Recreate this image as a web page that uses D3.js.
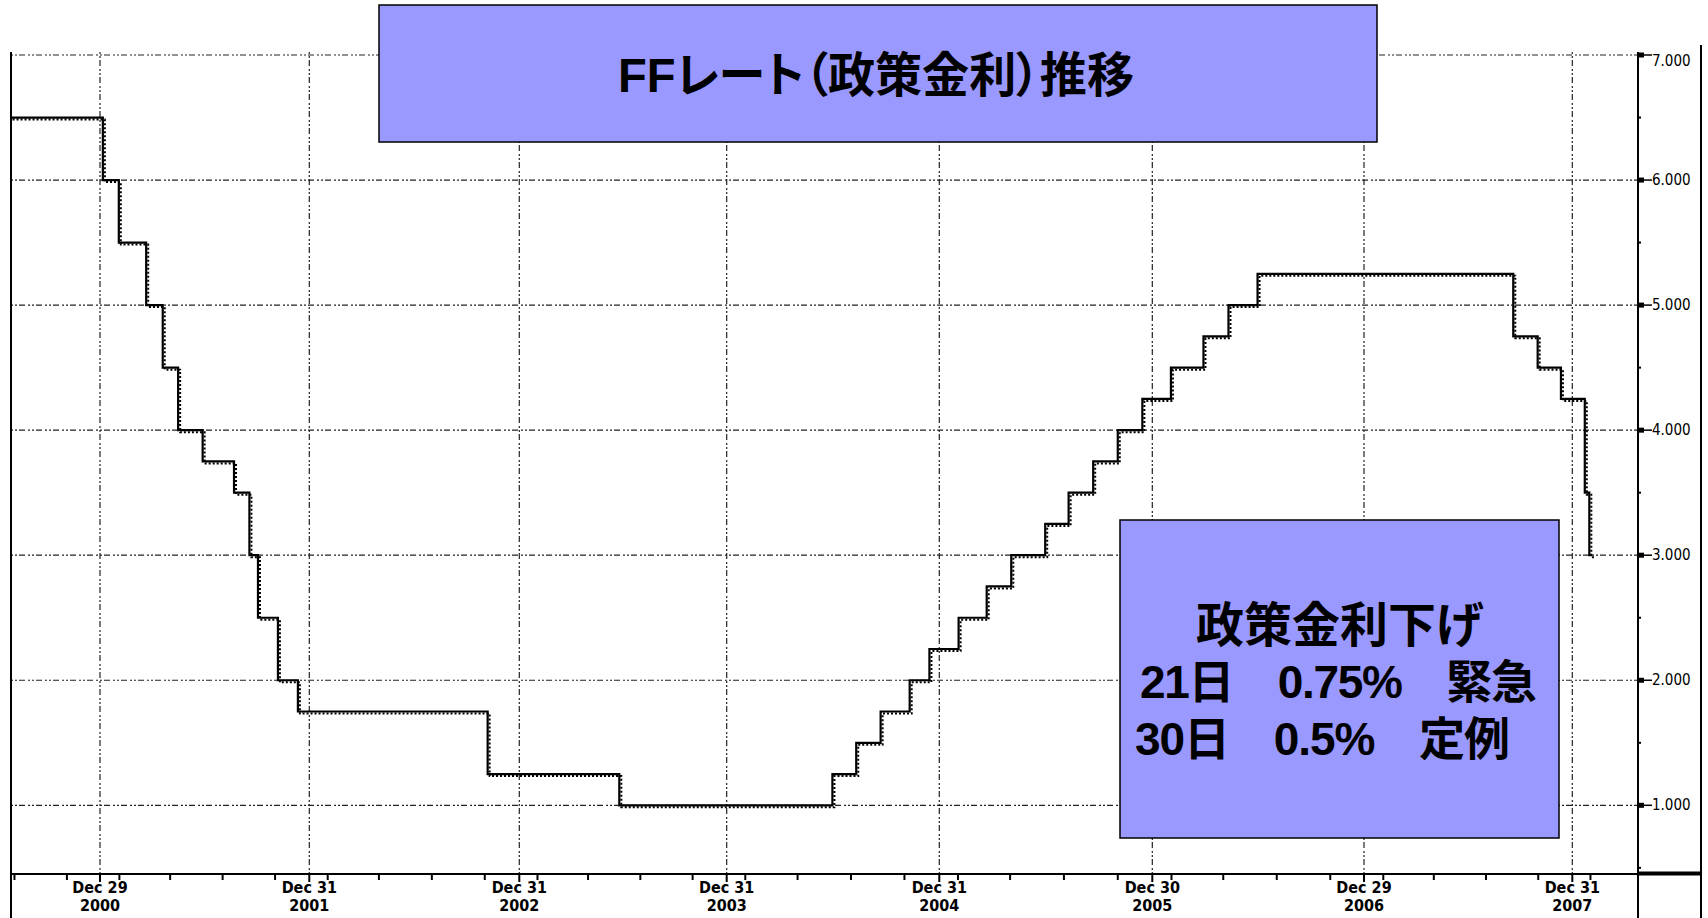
<!DOCTYPE html>
<html><head><meta charset="utf-8">
<script src="https://cdn.jsdelivr.net/npm/d3@7"></script>
<style>body{margin:0;background:#fff}svg{display:block}</style>
</head><body><svg id="c" width="1708" height="918"></svg>
<script>
// ---- data ----
const changeDates = ["2000-05-16","2001-01-03","2001-01-31","2001-03-20","2001-04-18","2001-05-15","2001-06-27","2001-08-21","2001-09-17","2001-10-02","2001-11-06","2001-12-11","2002-11-06","2003-06-25","2004-06-30","2004-08-10","2004-09-21","2004-11-10","2004-12-14","2005-02-02","2005-03-22","2005-05-03","2005-06-30","2005-08-09","2005-09-20","2005-11-01","2005-12-13","2006-01-31","2006-03-28","2006-05-10","2006-06-29","2007-09-18","2007-10-31","2007-12-11","2008-01-22","2008-01-30","2008-02-04"];
const rates = [6.5,6.0,5.5,5.0,4.5,4.0,3.75,3.5,3.0,2.5,2.0,1.75,1.25,1.0,1.25,1.5,1.75,2.0,2.25,2.5,2.75,3.0,3.25,3.5,3.75,4.0,4.25,4.5,4.75,5.0,5.25,4.75,4.5,4.25,3.5,3.0,3.0];
const yTicks = [1,2,3,4,5,6,7];
const xTickDates = ["2000-12-29","2001-12-31","2002-12-31","2003-12-31","2004-12-31","2005-12-30","2006-12-29","2007-12-31"];
const xTickDay = ["Dec 29","Dec 31","Dec 31","Dec 31","Dec 31","Dec 30","Dec 29","Dec 31"];
const xTickYear = ["2000","2001","2002","2003","2004","2005","2006","2007"];
const titleText = "FFレート（政策金利）推移";
const noteLines = ["政策金利下げ","21日　0.75%　緊急","30日　0.5%　定例"];

// ---- layout ----
const L = 11, R = 1638, T = 52, B = 874, RB = 1701;
// pixel positions of the year-end ticks (axis in the source is not calendar-linear)
const xTickPos = [100, 309.3, 519.3, 726.7, 939.3, 1152.3, 1364, 1572.3];
const svg = d3.select("#c");
const pd = d3.utcParse("%Y-%m-%d");
const x = d3.scaleUtc().domain(xTickDates.map(pd)).range(xTickPos);
const y = d3.scaleLinear().domain([1, 7]).range([805.3, 55]);
const xStart = x.invert(L), xEnd = x.invert(R);

svg.append("defs").append("clipPath").attr("id","plot")
  .append("rect").attr("x",L).attr("y",T).attr("width",R-L).attr("height",B-T);

// gridlines
const grid = svg.append("g").attr("stroke","#222").attr("stroke-width",1.2)
  .attr("stroke-dasharray","2,2,2,2,6,3");
grid.selectAll("line.h").data(yTicks).join("line").attr("class","h")
  .attr("x1",L).attr("x2",R).attr("y1",d=>y(d)).attr("y2",d=>y(d));
grid.selectAll("line.v").data(xTickDates).join("line").attr("class","v")
  .attr("x1",d=>x(pd(d))).attr("x2",d=>x(pd(d))).attr("y1",T).attr("y2",B);

// step line
const pts = changeDates.map((d,i)=>({date:pd(d), v:rates[i]}));
const line = d3.line().x(d=>x(d.date)).y(d=>y(d.v)).curve(d3.curveStepAfter);
const g = svg.append("g").attr("clip-path","url(#plot)");
g.append("path").datum(pts).attr("d",line).attr("fill","none")
  .attr("stroke","#000").attr("stroke-width",2).attr("stroke-dasharray","2,2")
  .attr("transform","translate(2,2)");
g.append("path").datum(pts).attr("d",line).attr("fill","none")
  .attr("stroke","#000").attr("stroke-width",2.2);

// frame lines
const frame = svg.append("g").attr("stroke","#000");
frame.append("line").attr("x1",L).attr("x2",L).attr("y1",T).attr("y2",918).attr("stroke-width",2);
frame.append("line").attr("x1",R).attr("x2",R).attr("y1",T).attr("y2",918).attr("stroke-width",2);
frame.append("line").attr("x1",RB).attr("x2",RB).attr("y1",45).attr("y2",918).attr("stroke-width",2);
frame.append("line").attr("x1",L).attr("x2",R).attr("y1",B).attr("y2",B).attr("stroke-width",2);
frame.append("line").attr("x1",R).attr("x2",RB).attr("y1",B-0.5).attr("y2",B-0.5).attr("stroke-width",4);

// right axis
const ra = svg.append("g");
const minorY = d3.range(0.5, 7, 1);
ra.selectAll("line.mi").data(minorY).join("line").attr("class","mi")
  .attr("x1",R).attr("x2",R+3).attr("y1",d=>y(d)).attr("y2",d=>y(d))
  .attr("stroke","#000").attr("stroke-width",2);
ra.selectAll("rect.mj").data(yTicks).join("rect").attr("class","mj")
  .attr("x",R-1).attr("y",d=>y(d)-2.5).attr("width",7).attr("height",5).attr("fill","#000");
ra.selectAll("line.mj").data(yTicks).join("line").attr("class","mj")
  .attr("x1",R).attr("x2",R+14).attr("y1",d=>y(d)).attr("y2",d=>y(d))
  .attr("stroke","#000").attr("stroke-width",1.5);
ra.selectAll("text").data(yTicks).join("text")
  .attr("x",R+14).attr("y",d=>y(d)+(d===7?11:5))
  .attr("font-family","'DejaVu Sans Condensed','DejaVu Sans',sans-serif")
  .attr("font-size",15).attr("fill","#000")
  .text(d=>d3.format(".3f")(d));

// bottom axis
const ba = svg.append("g");
const minorX = d3.utcMonths(xStart, xEnd, 3).filter(d=>d.getUTCMonth()!==0);
ba.selectAll("line.mi").data(minorX).join("line").attr("class","mi")
  .attr("x1",d=>x(d)).attr("x2",d=>x(d)).attr("y1",B).attr("y2",B+6)
  .attr("stroke","#000").attr("stroke-width",2);
ba.selectAll("line.mj").data(xTickDates).join("line").attr("class","mj")
  .attr("x1",d=>x(pd(d))).attr("x2",d=>x(pd(d))).attr("y1",B).attr("y2",B+8)
  .attr("stroke","#000").attr("stroke-width",2);
const lab = ba.selectAll("g.lab").data(xTickDates).join("g").attr("class","lab")
  .attr("transform",d=>`translate(${x(pd(d))},0)`)
  .attr("font-family","'DejaVu Sans Condensed','DejaVu Sans',sans-serif")
  .attr("font-weight","bold").attr("text-anchor","middle");
lab.append("text").attr("y",893).attr("font-size",16).text((d,i)=>xTickDay[i]);
lab.append("text").attr("y",911).attr("font-size",16).text((d,i)=>xTickYear[i]);

// title box
svg.append("rect").attr("x",379).attr("y",5).attr("width",998).attr("height",137)
  .attr("fill","#9999ff").attr("stroke","#000").attr("stroke-width",1.5);
svg.append("text").attr("x",618).attr("y",92)
  .attr("font-family","'Liberation Sans','Noto Sans CJK JP',sans-serif")
  .attr("font-weight","bold").attr("font-size",48)
  .style("font-feature-settings","'palt'")
  .attr("textLength",516).attr("lengthAdjust","spacingAndGlyphs")
  .text(titleText);

// note box
svg.append("rect").attr("x",1120).attr("y",520).attr("width",439).attr("height",318)
  .attr("fill","#9999ff").attr("stroke","#000").attr("stroke-width",1.5);
const noteX = [1196, 1140, 1135], noteY = [642, 698, 755];
const noteSize = [48, 46, 46], noteLen = [null, 397, 375];
svg.selectAll("text.note").data(noteLines).join("text").attr("class","note")
  .attr("x",(d,i)=>noteX[i]).attr("y",(d,i)=>noteY[i])
  .attr("font-family","'Liberation Sans','Noto Sans CJK JP',sans-serif")
  .attr("font-weight","bold").attr("font-size",(d,i)=>noteSize[i]).style("white-space","pre")
  .each(function(d,i){ if(noteLen[i]) d3.select(this).attr("textLength",noteLen[i]).attr("lengthAdjust","spacing"); })
  .text(d=>d);
</script></body></html>
